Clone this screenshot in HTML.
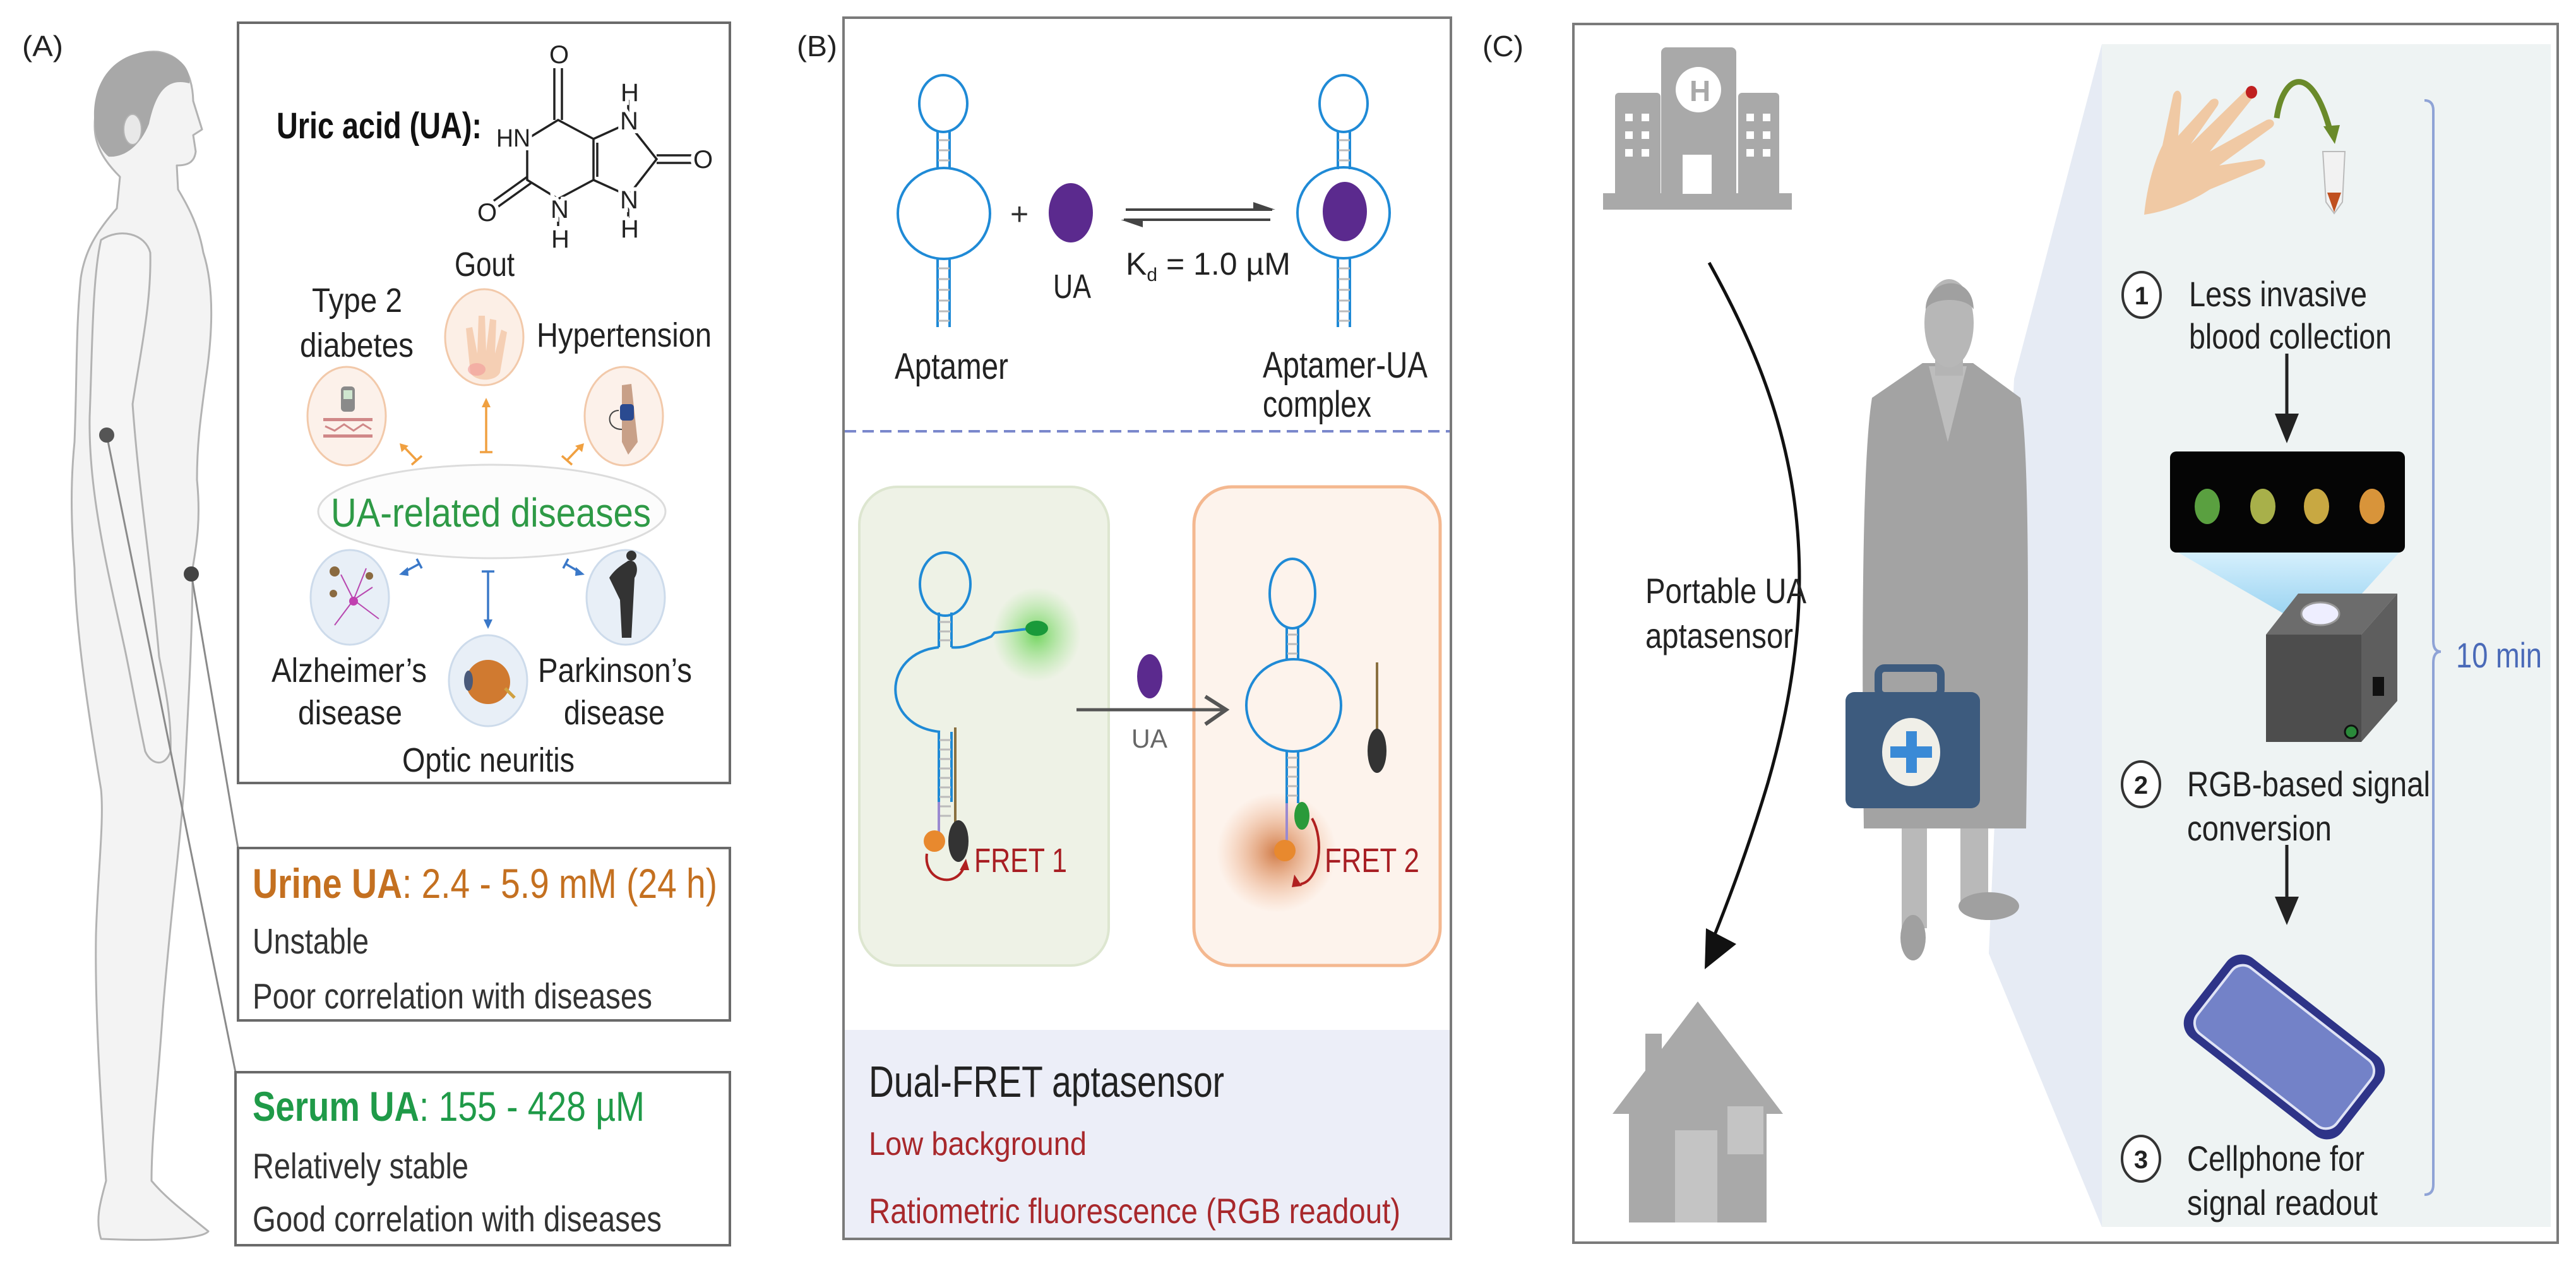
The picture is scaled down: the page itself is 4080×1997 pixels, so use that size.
<!DOCTYPE html>
<html><head><meta charset="utf-8"><style>
html,body{margin:0;padding:0;background:#fff;}
svg{display:block;}
text{font-family:"Liberation Sans",Arial,sans-serif;}
</style></head><body>
<svg width="4080" height="1997" viewBox="0 0 4080 1997" xmlns="http://www.w3.org/2000/svg">
<defs>
<radialGradient id="gg"><stop offset="0" stop-color="#5fd04a" stop-opacity=".85"/><stop offset="1" stop-color="#8ee07a" stop-opacity="0"/></radialGradient>
<radialGradient id="og"><stop offset="0" stop-color="#c8662a" stop-opacity=".85"/><stop offset="1" stop-color="#f0a070" stop-opacity="0"/></radialGradient>
<linearGradient id="beam" x1="0" y1="0" x2="0" y2="1"><stop offset="0" stop-color="#cfefff"/><stop offset="1" stop-color="#7fc8f0"/></linearGradient>
</defs>
<rect width="4080" height="1997" fill="#fff"/>

<!-- ================= PANEL A ================= -->
<text x="35" y="89" font-size="46" fill="#222" textLength="65" lengthAdjust="spacingAndGlyphs">(A)</text>

<!-- body -->
<g stroke="#b3b3b3" stroke-width="3" fill="#f3f3f3" stroke-linejoin="round">
<path d="M150,200 C150,120 200,78 250,82 C290,88 305,120 306,160 L320,205 L306,214 L310,240 C308,258 296,262 280,262 L282,300 C300,330 315,360 322,400 C338,450 338,520 326,600 C318,660 312,700 312,760 C318,820 312,860 305,900 C305,1000 298,1120 292,1240 C286,1330 270,1450 258,1600 C250,1720 240,1800 240,1870 C265,1900 300,1925 330,1950 C320,1962 250,1966 160,1962 C150,1930 160,1900 168,1870 C160,1750 150,1600 152,1480 C155,1380 165,1300 160,1250 C140,1130 120,1000 118,900 C112,820 112,760 118,700 C122,600 120,520 128,440 C134,400 150,370 185,330 L190,280 C170,260 150,235 150,200 Z"/>
<path d="M160,380 C190,360 230,370 238,400 C240,480 222,560 210,640 C220,780 240,900 252,1040 C262,1090 272,1140 270,1190 C262,1215 240,1212 230,1190 C215,1120 205,1060 196,1020 C170,900 140,780 142,660 C146,560 146,440 160,380 Z" fill="#f5f5f5"/>
</g>
<path d="M150,200 C140,115 200,72 258,84 C290,92 302,112 300,132 C262,122 246,150 236,196 C222,232 196,250 172,248 C158,236 152,220 150,200 Z" fill="#a8a8a8"/>
<ellipse cx="210" cy="205" rx="14" ry="24" fill="#e8e8e8" stroke="#b3b3b3" stroke-width="2"/>
<!-- connectors -->
<line x1="169" y1="689" x2="373" y2="1698" stroke="#8a8a8a" stroke-width="3"/>
<line x1="303" y1="909" x2="377" y2="1343" stroke="#8a8a8a" stroke-width="3"/>
<circle cx="169" cy="689" r="12" fill="#555"/>
<circle cx="303" cy="909" r="12" fill="#444"/>

<!-- A main box -->
<rect x="377" y="36" width="779" height="1204" fill="#fff" stroke="#6a6a6a" stroke-width="4"/>
<text x="438" y="219" font-size="58" font-weight="bold" fill="#111" textLength="325" lengthAdjust="spacingAndGlyphs">Uric acid (UA):</text>
<!-- molecule -->
<g stroke="#222" stroke-width="3.5" fill="none">
<path d="M884,190 L835,220 L835,285 L884,315 L940,285 L940,220 Z"/>
<line x1="946" y1="226" x2="946" y2="280"/>
<path d="M940,220 L995,195 L1040,252 L995,310 L940,285"/>
<line x1="878" y1="190" x2="878" y2="108"/><line x1="890" y1="190" x2="890" y2="108"/>
<line x1="1040" y1="246" x2="1100" y2="246"/><line x1="1040" y1="258" x2="1100" y2="258"/>
<line x1="835" y1="280" x2="782" y2="318"/><line x1="841" y1="290" x2="788" y2="328"/>
<line x1="884" y1="315" x2="884" y2="358"/>
<line x1="995" y1="195" x2="995" y2="158"/>
<line x1="995" y1="310" x2="995" y2="345"/>
</g>
<g font-size="40" fill="#222" stroke="#fff" stroke-width="12" paint-order="stroke">
<text x="870" y="100">O</text>
<text x="786" y="232" textLength="54" lengthAdjust="spacingAndGlyphs">HN</text>
<text x="1098" y="266">O</text>
<text x="756" y="350">O</text>
<text x="872" y="345">N</text>
<text x="873" y="392">H</text>
<text x="982" y="205">N</text>
<text x="983" y="160">H</text>
<text x="982" y="330">N</text>
<text x="983" y="376">H</text>
</g>
<!-- disease labels -->
<g font-size="54" fill="#222">
<text x="720" y="437" textLength="95" lengthAdjust="spacingAndGlyphs">Gout</text>
<text x="494" y="494" textLength="143" lengthAdjust="spacingAndGlyphs">Type 2</text>
<text x="475" y="565" textLength="180" lengthAdjust="spacingAndGlyphs">diabetes</text>
<text x="850" y="549" textLength="277" lengthAdjust="spacingAndGlyphs">Hypertension</text>
<text x="430" y="1080" textLength="246" lengthAdjust="spacingAndGlyphs">Alzheimer’s</text>
<text x="472" y="1147" textLength="165" lengthAdjust="spacingAndGlyphs">disease</text>
<text x="852" y="1080" textLength="244" lengthAdjust="spacingAndGlyphs">Parkinson’s</text>
<text x="893" y="1147" textLength="160" lengthAdjust="spacingAndGlyphs">disease</text>
<text x="637" y="1222" textLength="273" lengthAdjust="spacingAndGlyphs">Optic neuritis</text>
</g>
<!-- circles -->
<g stroke-width="3">
<ellipse cx="767" cy="534" rx="62" ry="76" fill="#fcefe6" stroke="#f2c9aa"/>
<ellipse cx="549" cy="659" rx="62" ry="78" fill="#fcf1ea" stroke="#f2c9aa"/>
<ellipse cx="988" cy="659" rx="62" ry="78" fill="#fcf1ea" stroke="#f2c9aa"/>
<ellipse cx="554" cy="946" rx="62" ry="75" fill="#e8eff7" stroke="#cddbeb"/>
<ellipse cx="991" cy="946" rx="62" ry="75" fill="#e8eff7" stroke="#cddbeb"/>
<ellipse cx="773" cy="1078" rx="62" ry="72" fill="#e8eff7" stroke="#cddbeb"/>
</g>
<!-- icons -->
<path d="M745,590 L738,520 L748,518 L756,560 L758,500 L768,500 L770,556 L776,505 L786,507 L784,560 L794,522 L803,526 L792,590 C785,605 752,605 745,590 Z" fill="#f5cfb4"/>
<ellipse cx="755" cy="585" rx="14" ry="10" fill="#f29a9a" opacity=".6"/>
<rect x="540" y="612" width="22" height="40" rx="6" fill="#8a8a8a"/><rect x="544" y="618" width="14" height="14" fill="#cfe6cf"/>
<rect x="512" y="662" width="78" height="5" fill="#d08888"/><rect x="512" y="688" width="78" height="5" fill="#d08888"/>
<path d="M515,675 L530,682 L545,672 L560,682 L575,672 L588,680" stroke="#d08888" stroke-width="3" fill="none"/>
<path d="M985,610 L1000,608 L1010,700 L995,720 L985,700 Z" fill="#c8a088"/><rect x="982" y="640" width="22" height="26" rx="5" fill="#2a4a90"/>
<path d="M980,650 C960,650 960,680 985,680" stroke="#444" stroke-width="2" fill="none"/>
<g stroke="#b848b0" stroke-width="2" fill="none"><path d="M530,990 L560,950 L580,900 M560,950 L600,980 M560,950 L540,910 M560,950 L590,930"/></g>
<circle cx="560" cy="952" r="7" fill="#c040b0"/><circle cx="530" cy="905" r="8" fill="#8a6a40"/><circle cx="585" cy="912" r="6" fill="#8a6a40"/><circle cx="528" cy="940" r="6" fill="#8a6a40"/>
<path d="M995,888 C1010,885 1012,905 1005,915 L1000,1010 L985,1010 L982,950 L965,915 C975,900 985,895 995,888 Z" fill="#333"/><circle cx="1000" cy="880" r="8" fill="#333"/>
<circle cx="773" cy="1080" r="35" fill="#d07a30"/><ellipse cx="742" cy="1078" rx="7" ry="16" fill="#4a5a7a"/><line x1="800" y1="1090" x2="815" y2="1105" stroke="#d0a040" stroke-width="5"/>
<!-- arrows orange -->
<g stroke="#f0a040" stroke-width="3.5" fill="#f0a040">
<line x1="770" y1="642" x2="770" y2="716"/><line x1="760" y1="716" x2="780" y2="716"/>
<polygon points="770,630 763,645 777,645" stroke="none"/>
<line x1="661" y1="730" x2="640" y2="708"/><line x1="652" y1="736" x2="668" y2="722"/>
<polygon points="633,702 636,716 647,706" stroke="none"/>
<line x1="897" y1="730" x2="918" y2="708"/><line x1="890" y1="722" x2="906" y2="736"/>
<polygon points="925,702 922,716 911,706" stroke="none"/>
</g>
<g stroke="#3a78c8" stroke-width="3.5" fill="#3a78c8">
<line x1="773" y1="905" x2="773" y2="982"/><line x1="763" y1="905" x2="783" y2="905"/>
<polygon points="773,996 766,981 780,981" stroke="none"/>
<line x1="664" y1="893" x2="640" y2="906"/><line x1="660" y1="885" x2="668" y2="900"/>
<polygon points="632,910 646,898 647,912" stroke="none"/>
<line x1="896" y1="893" x2="918" y2="906"/><line x1="900" y1="885" x2="892" y2="900"/>
<polygon points="926,910 912,898 911,912" stroke="none"/>
</g>
<ellipse cx="779" cy="810" rx="275" ry="74" fill="#fcfcfc" stroke="#dcdcdc" stroke-width="3"/>
<text x="524" y="834" font-size="64" fill="#2e9a46" textLength="507" lengthAdjust="spacingAndGlyphs">UA-related diseases</text>

<!-- urine box -->
<rect x="377" y="1343" width="779" height="273" fill="#fff" stroke="#6a6a6a" stroke-width="4"/>
<text x="400" y="1422" font-size="66" font-weight="bold" fill="#c47020" textLength="237" lengthAdjust="spacingAndGlyphs">Urine UA</text>
<text x="637" y="1422" font-size="66" fill="#c47020" textLength="499" lengthAdjust="spacingAndGlyphs">: 2.4 - 5.9 mM (24 h)</text>
<text x="400" y="1510" font-size="57" fill="#333" textLength="184" lengthAdjust="spacingAndGlyphs">Unstable</text>
<text x="400" y="1597" font-size="57" fill="#333" textLength="633" lengthAdjust="spacingAndGlyphs">Poor correlation with diseases</text>
<!-- serum box -->
<rect x="373" y="1698" width="783" height="274" fill="#fff" stroke="#6a6a6a" stroke-width="4"/>
<text x="400" y="1775" font-size="66" font-weight="bold" fill="#1f9a48" textLength="264" lengthAdjust="spacingAndGlyphs">Serum UA</text>
<text x="664" y="1775" font-size="66" fill="#1f9a48" textLength="357" lengthAdjust="spacingAndGlyphs">: 155 - 428 µM</text>
<text x="400" y="1866" font-size="57" fill="#333" textLength="342" lengthAdjust="spacingAndGlyphs">Relatively stable</text>
<text x="400" y="1950" font-size="57" fill="#333" textLength="648" lengthAdjust="spacingAndGlyphs">Good correlation with diseases</text>

<!-- ================= PANEL B ================= -->
<text x="1262" y="89" font-size="46" fill="#222" textLength="64" lengthAdjust="spacingAndGlyphs">(B)</text>
<rect x="1336" y="28" width="962" height="1934" fill="#fff" stroke="#7a7a7a" stroke-width="4"/>
<rect x="1338" y="1631" width="958" height="329" fill="#eceef8"/>
<g fill="none" stroke="#1f8ad6" stroke-width="4">
<ellipse cx="1494" cy="164" rx="38" ry="45"/>
<line x1="1485" y1="207" x2="1485" y2="268"/><line x1="1504" y1="207" x2="1504" y2="268"/>
<ellipse cx="1495" cy="338" rx="73" ry="72"/>
<line x1="1485" y1="409" x2="1485" y2="518"/><line x1="1504" y1="409" x2="1504" y2="518"/>
<ellipse cx="2128" cy="164" rx="38" ry="45"/>
<line x1="2119" y1="207" x2="2119" y2="268"/><line x1="2138" y1="207" x2="2138" y2="268"/>
<ellipse cx="2128" cy="337" rx="73" ry="72"/>
<line x1="2119" y1="408" x2="2119" y2="518"/><line x1="2138" y1="408" x2="2138" y2="518"/>
</g>
<g stroke="#bbb" stroke-width="3">
<path d="M1486,222h18M1486,238h18M1486,254h18M1486,425h18M1486,442h18M1486,459h18M1486,476h18M1486,493h18M1486,508h18"/>
<path d="M2120,222h18M2120,238h18M2120,254h18M2120,425h18M2120,442h18M2120,459h18M2120,476h18M2120,493h18M2120,508h18"/>
</g>
<text x="1600" y="356" font-size="50" fill="#333">+</text>
<ellipse cx="1696" cy="337" rx="35" ry="47" fill="#5b2a8e"/>
<ellipse cx="2130" cy="335" rx="35" ry="47" fill="#5b2a8e"/>
<text x="1668" y="472" font-size="54" fill="#222" textLength="60" lengthAdjust="spacingAndGlyphs">UA</text>
<g stroke="#444" stroke-width="4" fill="#444">
<line x1="1783" y1="332" x2="2015" y2="332"/><polygon points="2020,332 1985,320 1985,332" stroke="none"/>
<line x1="1780" y1="348" x2="2012" y2="348"/><polygon points="1775,348 1810,360 1810,348" stroke="none"/>
</g>
<text x="1783" y="435" font-size="50" fill="#222">K<tspan font-size="30" dy="10">d</tspan><tspan dy="-10"> = 1.0 µM</tspan></text>
<text x="1417" y="600" font-size="58" fill="#222" textLength="180" lengthAdjust="spacingAndGlyphs">Aptamer</text>
<text x="2000" y="598" font-size="58" fill="#222" textLength="261" lengthAdjust="spacingAndGlyphs">Aptamer-UA</text>
<text x="2000" y="660" font-size="58" fill="#222" textLength="172" lengthAdjust="spacingAndGlyphs">complex</text>
<line x1="1338" y1="683" x2="2296" y2="683" stroke="#7a88cc" stroke-width="4" stroke-dasharray="18,10"/>

<!-- FRET panels -->
<rect x="1361" y="771" width="395" height="758" rx="60" fill="#eef2e6" stroke="#dde6d0" stroke-width="4"/>
<rect x="1891" y="771" width="390" height="758" rx="60" fill="#fdf3ec" stroke="#f4b890" stroke-width="5"/>
<ellipse cx="1642" cy="1005" rx="70" ry="75" fill="url(#gg)"/>
<ellipse cx="2022" cy="1350" rx="95" ry="95" fill="url(#og)"/>
<g fill="none" stroke="#1f8ad6" stroke-width="4">
<ellipse cx="1497" cy="925" rx="40" ry="50"/>
<line x1="1487" y1="970" x2="1487" y2="1025"/><line x1="1507" y1="970" x2="1507" y2="1025"/>
<path d="M1487,1025 C1395,1035 1395,1150 1489,1159"/>
<path d="M1507,1025 C1530,1028 1545,1015 1560,1012 L1570,1008 L1575,1002 C1600,1000 1620,996 1640,995"/>
<line x1="1487" y1="1159" x2="1487" y2="1270"/><line x1="1507" y1="1159" x2="1507" y2="1270"/>
<ellipse cx="2047" cy="940" rx="36" ry="55"/>
<line x1="2038" y1="992" x2="2038" y2="1046"/><line x1="2056" y1="992" x2="2056" y2="1046"/>
<ellipse cx="2049" cy="1117" rx="75" ry="73"/>
<line x1="2038" y1="1189" x2="2038" y2="1272"/><line x1="2056" y1="1189" x2="2056" y2="1272"/>
</g>
<g stroke="#bbb" stroke-width="3">
<path d="M1488,985h18M1488,1000h18M1488,1014h18M1488,1172h18M1488,1187h18M1488,1202h18M1488,1217h18M1488,1232h18M1488,1247h18M1488,1262h18M1488,1277h18M1488,1292h18"/>
<path d="M2039,1005h16M2039,1020h16M2039,1035h16M2039,1200h16M2039,1215h16M2039,1230h16M2039,1245h16M2039,1260h16"/>
</g>
<line x1="1487" y1="1270" x2="1487" y2="1330" stroke="#9a8ad0" stroke-width="4"/>
<line x1="2038" y1="1272" x2="2038" y2="1345" stroke="#9a8ad0" stroke-width="4"/>
<line x1="1513" y1="1152" x2="1513" y2="1310" stroke="#8a7040" stroke-width="4"/>
<line x1="2181" y1="1049" x2="2181" y2="1165" stroke="#8a7040" stroke-width="4"/>
<ellipse cx="1642" cy="995" rx="18" ry="12" fill="#1a9a3a"/>
<ellipse cx="1518" cy="1332" rx="16" ry="33" fill="#333"/>
<circle cx="1480" cy="1332" r="17" fill="#e8892e"/>
<ellipse cx="2181" cy="1189" rx="15" ry="35" fill="#333"/>
<ellipse cx="2062" cy="1292" rx="12" ry="22" fill="#2a9a3a"/>
<circle cx="2035" cy="1347" r="17" fill="#e8892e"/>
<g stroke="#b02020" stroke-width="4" fill="none">
<path d="M1468,1352 C1462,1395 1515,1410 1528,1370"/>
<path d="M2078,1296 C2098,1330 2090,1395 2060,1400"/>
</g>
<polygon points="1530,1360 1520,1378 1535,1378" fill="#b02020"/>
<polygon points="2050,1385 2062,1403 2046,1405" fill="#b02020"/>
<text x="1543" y="1381" font-size="54" fill="#a81f24" textLength="147" lengthAdjust="spacingAndGlyphs">FRET 1</text>
<text x="2098" y="1381" font-size="54" fill="#a81f24" textLength="150" lengthAdjust="spacingAndGlyphs">FRET 2</text>
<line x1="1705" y1="1124" x2="1938" y2="1124" stroke="#555" stroke-width="5"/>
<polyline points="1909,1103 1942,1124 1909,1147" fill="none" stroke="#555" stroke-width="6"/>
<ellipse cx="1821" cy="1071" rx="20" ry="35" fill="#5b2a8e"/>
<text x="1792" y="1184" font-size="42" fill="#666" textLength="57" lengthAdjust="spacingAndGlyphs">UA</text>

<text x="1376" y="1737" font-size="70" fill="#222" textLength="563" lengthAdjust="spacingAndGlyphs">Dual-FRET aptasensor</text>
<text x="1376" y="1829" font-size="52" fill="#a8282c" textLength="345" lengthAdjust="spacingAndGlyphs">Low background</text>
<text x="1376" y="1937" font-size="56" fill="#a8282c" textLength="842" lengthAdjust="spacingAndGlyphs">Ratiometric fluorescence (RGB readout)</text>

<!-- ================= PANEL C ================= -->
<text x="2348" y="89" font-size="46" fill="#222" textLength="65" lengthAdjust="spacingAndGlyphs">(C)</text>
<rect x="2492" y="38" width="1559" height="1930" fill="#fff" stroke="#7a7a7a" stroke-width="4"/>
<rect x="3329" y="70" width="711" height="1873" fill="#eef3f3"/>
<polygon points="3329,70 3190,600 3150,1510 3329,1943" fill="#e6ebf4"/>

<!-- hospital -->
<g fill="#a9a9a9">
<rect x="2631" y="75" width="119" height="240" rx="8"/>
<rect x="2558" y="147" width="72" height="168" rx="6"/>
<rect x="2753" y="147" width="65" height="168" rx="6"/>
<rect x="2539" y="306" width="299" height="26"/>
</g>
<circle cx="2690" cy="142" r="36" fill="#fff"/>
<text x="2676" y="160" font-size="46" font-weight="bold" fill="#a9a9a9">H</text>
<rect x="2665" y="245" width="46" height="62" fill="#fff"/>
<g fill="#fff">
<rect x="2574" y="180" width="12" height="12"/><rect x="2600" y="180" width="12" height="12"/>
<rect x="2574" y="208" width="12" height="12"/><rect x="2600" y="208" width="12" height="12"/>
<rect x="2574" y="236" width="12" height="12"/><rect x="2600" y="236" width="12" height="12"/>
<rect x="2766" y="180" width="12" height="12"/><rect x="2792" y="180" width="12" height="12"/>
<rect x="2766" y="208" width="12" height="12"/><rect x="2792" y="208" width="12" height="12"/>
<rect x="2766" y="236" width="12" height="12"/><rect x="2792" y="236" width="12" height="12"/>
</g>
<!-- curved arrow -->
<path d="M2707,416 C2820,620 2910,860 2800,1240 C2770,1340 2740,1420 2712,1490" fill="none" stroke="#111" stroke-width="5"/>
<polygon points="2700,1535 2702,1470 2750,1495" fill="#111"/>
<text x="2606" y="955" font-size="56" fill="#222" textLength="255" lengthAdjust="spacingAndGlyphs">Portable UA</text>
<text x="2606" y="1026" font-size="56" fill="#222" textLength="234" lengthAdjust="spacingAndGlyphs">aptasensor</text>
<!-- house -->
<g fill="#a9a9a9">
<polygon points="2689,1586 2554,1764 2824,1764"/>
<rect x="2580" y="1740" width="218" height="196"/>
<rect x="2606" y="1637" width="26" height="70"/>
</g>
<rect x="2653" y="1790" width="67" height="146" fill="#c4c4c4"/>
<rect x="2736" y="1752" width="57" height="76" fill="#c4c4c4"/>

<!-- person -->
<g>
<rect x="3012" y="1300" width="40" height="170" fill="#b9b9b9"/>
<rect x="3105" y="1300" width="44" height="130" fill="#b9b9b9"/>
<ellipse cx="3030" cy="1485" rx="20" ry="36" fill="#a0a0a0"/>
<ellipse cx="3150" cy="1435" rx="48" ry="22" fill="#a0a0a0"/>
<path d="M3045,575 L3125,575 L3200,630 C3212,700 3215,900 3209,1312 L2952,1312 C2948,1000 2950,720 2965,630 Z" fill="#a3a3a3"/>
<path d="M3055,580 L3085,700 L3115,580 Z" fill="#bdbdbd"/>
<rect x="3065" y="555" width="44" height="40" fill="#b4b4b4"/>
<ellipse cx="3087" cy="512" rx="39" ry="70" fill="#b7b7b7"/>
<path d="M3050,490 C3050,440 3125,430 3126,490 C3115,470 3060,470 3050,490 Z" fill="#a0a0a0"/>
</g>
<!-- medical case -->
<rect x="2975" y="1058" width="99" height="44" rx="10" fill="none" stroke="#3d5b7e" stroke-width="12"/>
<rect x="2923" y="1096" width="213" height="184" rx="14" fill="#3d5b7e"/>
<ellipse cx="3027" cy="1191" rx="46" ry="54" fill="#f0efe8"/>
<rect x="3019" y="1158" width="17" height="66" fill="#3a8ad6"/>
<rect x="2994" y="1182" width="66" height="18" fill="#3a8ad6"/>

<!-- hand + tube -->
<path d="M3396,340 C3400,300 3410,260 3425,230 L3442,150 C3446,140 3455,142 3455,155 L3450,215 L3500,160 C3508,152 3518,158 3512,168 L3470,228 L3560,140 C3568,134 3578,140 3572,150 L3500,240 L3590,190 C3600,186 3606,196 3598,202 L3515,262 L3580,252 C3590,252 3590,262 3582,266 L3500,300 C3470,320 3430,335 3396,340 Z" fill="#f0c9a4"/>
<ellipse cx="3566" cy="146" rx="9" ry="10" fill="#c02020"/>
<path d="M3606,187 C3615,120 3660,95 3690,205" fill="none" stroke="#6a8a2a" stroke-width="9"/>
<polygon points="3680,200 3706,198 3698,228" fill="#6a8a2a"/>
<path d="M3679,240 L3714,240 L3710,320 L3697,338 L3684,320 Z" fill="#f2f2f2" stroke="#bbb" stroke-width="2"/>
<path d="M3686,305 L3708,305 L3697,336 Z" fill="#c05020"/>

<!-- steps -->
<g font-size="56" fill="#222">
<text x="3467" y="485" textLength="282" lengthAdjust="spacingAndGlyphs">Less invasive</text>
<text x="3467" y="552" textLength="321" lengthAdjust="spacingAndGlyphs">blood collection</text>
<text x="3464" y="1261" textLength="385" lengthAdjust="spacingAndGlyphs">RGB-based signal</text>
<text x="3464" y="1331" textLength="229" lengthAdjust="spacingAndGlyphs">conversion</text>
<text x="3464" y="1854" textLength="281" lengthAdjust="spacingAndGlyphs">Cellphone for</text>
<text x="3464" y="1924" textLength="302" lengthAdjust="spacingAndGlyphs">signal readout</text>
</g>
<g fill="#fff" stroke="#333" stroke-width="4">
<ellipse cx="3392" cy="467" rx="30" ry="36"/>
<ellipse cx="3391" cy="1242" rx="30" ry="36"/>
<ellipse cx="3391" cy="1835" rx="30" ry="36"/>
</g>
<g font-size="40" font-weight="bold" fill="#222" text-anchor="middle">
<text x="3392" y="482">1</text><text x="3391" y="1257">2</text><text x="3391" y="1850">3</text>
</g>
<line x1="3622" y1="560" x2="3622" y2="660" stroke="#222" stroke-width="5"/>
<polygon points="3603,655 3641,655 3622,702" fill="#222"/>
<line x1="3622" y1="1338" x2="3622" y2="1425" stroke="#222" stroke-width="5"/>
<polygon points="3603,1420 3641,1420 3622,1465" fill="#222"/>

<!-- beam + strip -->
<polygon points="3450,875 3800,875 3700,985 3640,985" fill="url(#beam)" opacity=".8"/>
<rect x="3437" y="715" width="372" height="160" rx="10" fill="#050505"/>
<ellipse cx="3496" cy="802" rx="20" ry="28" fill="#5aa040"/>
<ellipse cx="3584" cy="802" rx="20" ry="28" fill="#a8b04a"/>
<ellipse cx="3669" cy="802" rx="20" ry="28" fill="#c8a842"/>
<ellipse cx="3757" cy="802" rx="20" ry="28" fill="#d8943a"/>
<!-- device -->
<polygon points="3589,1005 3640,940 3797,940 3740,1005" fill="#6c6c6c"/>
<rect x="3589" y="1005" width="151" height="170" fill="#4d4d4d"/>
<polygon points="3740,1005 3797,940 3797,1110 3740,1175" fill="#5e5e5e"/>
<ellipse cx="3675" cy="972" rx="30" ry="18" fill="#eef" stroke="#999" stroke-width="3"/>
<rect x="3758" y="1072" width="18" height="30" fill="#111"/>
<circle cx="3724" cy="1159" r="10" fill="#2a8a3a" stroke="#111" stroke-width="3"/>

<!-- phone -->
<g transform="translate(3618,1658) rotate(38)">
<rect x="-155" y="-80" width="310" height="160" rx="30" fill="#2e3488"/>
<rect x="-140" y="-66" width="280" height="132" rx="22" fill="#7382c8" stroke="#dfe3f5" stroke-width="4"/>
</g>

<!-- bracket -->
<path d="M3840,159 Q3854,159 3854,175 L3854,1015 Q3854,1032 3866,1032 Q3854,1032 3854,1050 L3854,1876 Q3854,1892 3840,1892" fill="none" stroke="#8fa3d6" stroke-width="4"/>
<text x="3890" y="1057" font-size="56" fill="#4a6ab8" textLength="136" lengthAdjust="spacingAndGlyphs">10 min</text>
</svg>
</body></html>
